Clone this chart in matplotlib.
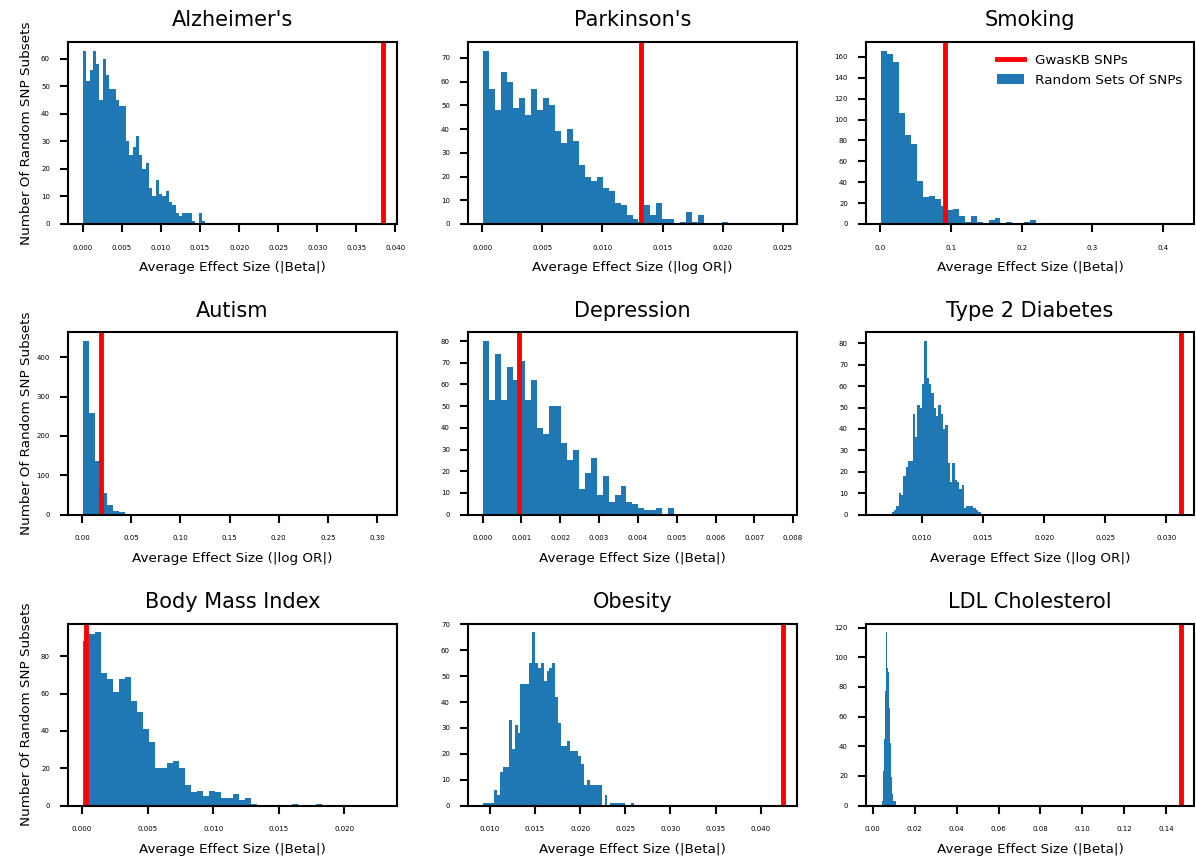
import numpy as np
import matplotlib
matplotlib.use("Agg")
import matplotlib.pyplot as plt
from matplotlib.ticker import MultipleLocator

# ---------------- data ----------------
titles = ["Alzheimer's", "Parkinson's", "Smoking",
          "Autism", "Depression", "Type 2 Diabetes",
          "Body Mass Index", "Obesity", "LDL Cholesterol"]
xlabels = ["Average Effect Size (|Beta|)", "Average Effect Size (|log OR|)", "Average Effect Size (|Beta|)",
           "Average Effect Size (|log OR|)", "Average Effect Size (|Beta|)", "Average Effect Size (|log OR|)",
           "Average Effect Size (|Beta|)", "Average Effect Size (|Beta|)", "Average Effect Size (|Beta|)"]
ylabel = "Number Of Random SNP Subsets"
legend_labels = ["GwasKB SNPs", "Random Sets Of SNPs"]

# histogram counts of random SNP subsets, first bin edge, bin width, GwasKB value
alz_counts = [63, 52, 56, 63, 58, 45, 60, 54, 49, 49, 45, 43, 43, 30, 25, 28, 32, 25, 20, 22,
              13, 10, 16, 11, 10, 12, 8, 7, 4, 3, 4, 4, 4, 1, 0, 4, 1]
alz_start, alz_width, alz_gwaskb = 0.00003, 0.000423, 0.03835

park_counts = [73, 57, 48, 64, 60, 49, 53, 46, 57, 48, 53, 50, 39, 34, 40, 35, 25, 20, 18, 20,
               15, 14, 9, 8, 4, 2, 1, 8, 4, 9, 2, 2, 0, 1, 5, 1, 4, 0, 0, 0, 1]
park_start, park_width, park_gwaskb = 0.00005, 0.000498, 0.01319

smok_counts = [166, 163, 155, 106, 85, 77, 41, 26, 27, 24, 17, 13, 14, 8, 2, 8, 2, 0, 4, 6,
               0, 2, 0, 0, 2, 4, 0, 0, 0, 1, 1]
smok_start, smok_width, smok_gwaskb = 0.0015, 0.00843, 0.0913

aut_counts = [441, 258, 135, 55, 25, 9, 6]
aut_start, aut_width, aut_gwaskb = 0.001, 0.00608, 0.0193

dep_counts = [80, 53, 74, 53, 68, 62, 71, 53, 62, 40, 37, 50, 50, 33, 25, 30, 12, 19, 26, 9,
              18, 6, 9, 13, 6, 5, 3, 2, 2, 3, 0, 3]
dep_start, dep_width, dep_gwaskb = 0.00001, 0.000154, 0.000936

t2d_counts = [1, 2, 4, 10, 9, 18, 22, 25, 25, 47, 36, 51, 50, 61, 81, 64, 61, 57, 50, 46,
              51, 47, 40, 42, 24, 15, 24, 16, 15, 12, 14, 3, 4, 4, 4, 3, 2, 1]
t2d_start, t2d_width, t2d_gwaskb = 0.007545, 0.000191, 0.03117

bmi_counts = [88, 92, 93, 71, 68, 61, 68, 69, 56, 50, 41, 34, 20, 20, 23, 24, 20, 11, 7, 8,
              5, 8, 7, 4, 4, 6, 3, 4, 1, 0, 0, 0, 0, 0, 0, 1, 0, 0, 0, 1]
bmi_start, bmi_width, bmi_gwaskb = 0.000076, 0.000456, 0.00028

obe_counts = [1, 1, 1, 1, 6, 4, 13, 15, 15, 33, 22, 31, 28, 47, 47, 47, 55, 67, 55, 53,
              55, 48, 52, 53, 55, 42, 32, 23, 23, 25, 21, 21, 21, 19, 16, 8, 10, 8, 8, 8,
              8, 0, 4, 0, 1, 1, 1, 1, 1, 0, 0, 1]
obe_start, obe_width, obe_gwaskb = 0.00923, 0.000321, 0.04245

ldl_counts = [3, 23, 45, 77, 117, 93, 90, 66, 42, 19, 8, 3, 3, 3]
ldl_start, ldl_width, ldl_gwaskb = 0.0043, 0.00048, 0.1468

# ---------------- layout / styling ----------------
x_limits = [(-0.00188, 0.0402), (-0.0012, 0.0262), (-0.0199, 0.4435),
            (-0.0142, 0.3202), (-0.000378, 0.0081), (0.00544, 0.03226),
            (-0.00106, 0.0240), (0.0076, 0.0440), (-0.00318, 0.1532)]
x_steps = [0.005, 0.005, 0.1, 0.05, 0.001, 0.005, 0.005, 0.005, 0.02]
y_steps = [10, 10, 20, 100, 10, 10, 20, 10, 20]

panels = [
    (alz_counts, alz_start, alz_width, alz_gwaskb),
    (park_counts, park_start, park_width, park_gwaskb),
    (smok_counts, smok_start, smok_width, smok_gwaskb),
    (aut_counts, aut_start, aut_width, aut_gwaskb),
    (dep_counts, dep_start, dep_width, dep_gwaskb),
    (t2d_counts, t2d_start, t2d_width, t2d_gwaskb),
    (bmi_counts, bmi_start, bmi_width, bmi_gwaskb),
    (obe_counts, obe_start, obe_width, obe_gwaskb),
    (ldl_counts, ldl_start, ldl_width, ldl_gwaskb),
]

W, H = 1196, 863
fig = plt.figure(figsize=(W / 100, H / 100), dpi=100)
lefts = [68, 468, 866]
widths = [329, 329, 328]
tops = [42, 332.5, 623.5]
height = 182

BLUE = "#1f77b4"
RED = "#ff0000"

for i, (counts, start, width, gval) in enumerate(panels):
    r, c = divmod(i, 3)
    ax = fig.add_axes([lefts[c] / W, 1 - (tops[r] + height) / H, widths[c] / W, height / H])
    counts = np.asarray(counts, dtype=float)
    edges = start + width * np.arange(len(counts) + 1)
    _, _, bars = ax.hist(edges[:-1], bins=edges, weights=counts, color=BLUE)
    line = ax.axvline(gval, color=RED, lw=3.5)
    ax.set_xlim(*x_limits[i])
    ax.xaxis.set_major_locator(MultipleLocator(x_steps[i]))
    ax.yaxis.set_major_locator(MultipleLocator(y_steps[i]))
    ax.set_title(titles[i], fontsize=15, pad=11.5)
    ax.set_xlabel(xlabels[i], fontsize=9.7)
    ax.xaxis.set_label_coords(0.5, -0.205)
    if c == 0:
        ax.set_ylabel(ylabel, fontsize=9.7)
        ax.yaxis.set_label_coords(-0.105, 0.5)
    for sp in ax.spines.values():
        sp.set_linewidth(1.5)
        sp.set_color("black")
    ax.tick_params(axis="both", direction="out", length=6, width=1.5, labelsize=5, color="black")
    ax.tick_params(axis="x", pad=9)
    ax.tick_params(axis="y", pad=7)
    if i == 2:
        ax.legend([line, bars[0]], legend_labels, loc="upper right", frameon=False, fontsize=9.7)

fig.savefig("out.png", dpi=100)
